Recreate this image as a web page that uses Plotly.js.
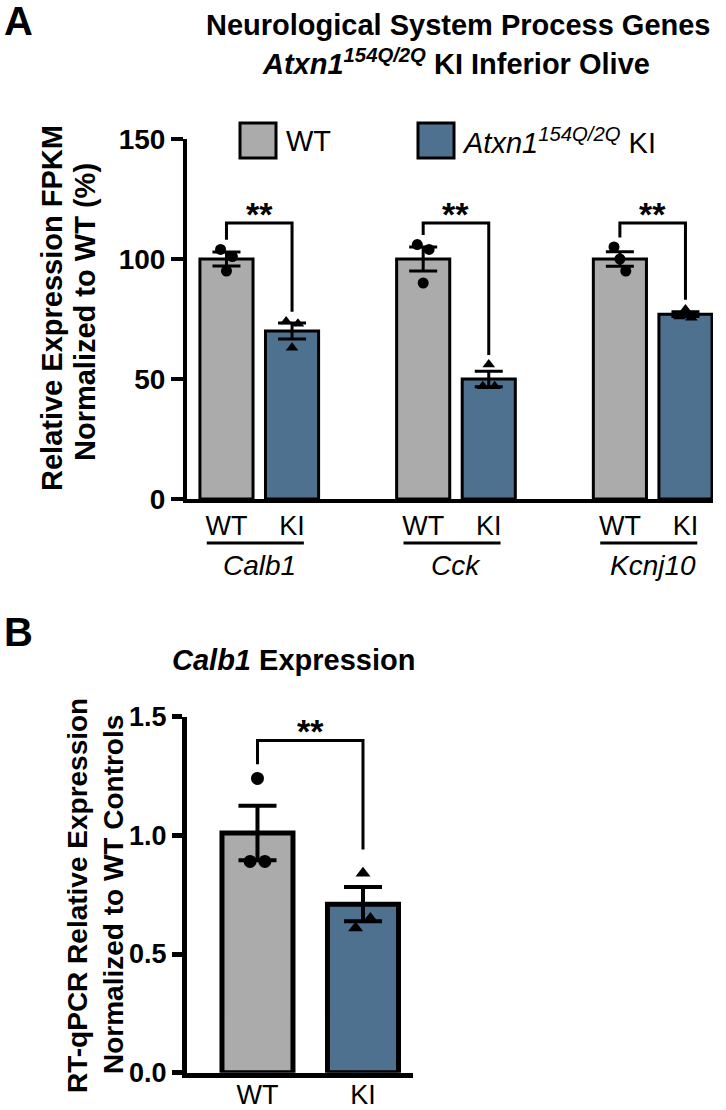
<!DOCTYPE html>
<html>
<head>
<meta charset="utf-8">
<script src="https://cdn.plot.ly/plotly-3.0.1.min.js"></script>
<style>html,body{margin:0;padding:0;background:#fff;}#chart{width:726px;height:1110px;}</style>
</head>
<body>
<div id="chart"></div>
<script>
// ---------- DATA ----------
// Panel A: FPKM normalized to WT (%)
const genes = ["Calb1", "Cck", "Kcnj10"];
const groupLabels = ["WT", "KI"];
const wtMeanA = [100, 100, 100];
const kiMeanA = [70, 50, 77];
const wtSemA = [2.9, 5.0, 3.0];
const kiSemA = [3.3, 3.2, 1.0];
const wtPointsA = [[104, 101, 95], [106, 104, 90], [105, 95, 100]];
const kiPointsA = [[74, 73, 63], [47, 47, 56], [76, 75.5, 79]];
const sigA = ["**", "**", "**"];
const yTicksA = [0, 50, 100, 150];

// Panel B: RT-qPCR Calb1
const catsB = ["WT", "KI"];
const meanB = [1.01, 0.71];
const semB = [0.115, 0.072];
const pointsB = [[0.89, 0.89, 1.24], [0.61, 0.65, 0.84]];
const sigB = "**";
const yTicksB = [0, 0.5, 1.0, 1.5];

// ---------- STYLE ----------
const W = 726, H = 1110;
const px = x => x / W;
const py = y => 1 - y / H;
const FONT = "Liberation Sans, Arial, Helvetica, sans-serif";
const GRAY = "#ABABAB";
const BLUE = "#4F7190";
const JIT_A = [-0.09, 0.09, 0];
const JIT_B = [-0.07, 0.07, 0];

const wtPos = genes.map((g, i) => 3 * i);
const kiPos = genes.map((g, i) => 3 * i + 1);

const traces = [];
traces.push({
  type: "bar", x: wtPos, y: wtMeanA, width: 0.81, xaxis: "x", yaxis: "y",
  marker: {color: GRAY, line: {color: "#000", width: 3}},
  error_y: {type: "data", array: wtSemA, visible: true, color: "#000", thickness: 3, width: 14},
  hoverinfo: "skip", showlegend: false
});
traces.push({
  type: "bar", x: kiPos, y: kiMeanA, width: 0.81, xaxis: "x", yaxis: "y",
  marker: {color: BLUE, line: {color: "#000", width: 3}},
  error_y: {type: "data", array: kiSemA, visible: true, color: "#000", thickness: 3, width: 14},
  hoverinfo: "skip", showlegend: false
});
const wx = [], wy = [], kx = [], ky = [];
genes.forEach((g, i) => {
  wtPointsA[i].forEach((v, j) => { wx.push(wtPos[i] + JIT_A[j]); wy.push(v); });
  kiPointsA[i].forEach((v, j) => { kx.push(kiPos[i] + JIT_A[j]); ky.push(v); });
});
traces.push({type: "scatter", mode: "markers", x: wx, y: wy, xaxis: "x", yaxis: "y",
  marker: {symbol: "circle", size: 11, color: "#000"}, hoverinfo: "skip", showlegend: false});
traces.push({type: "scatter", mode: "markers", x: kx, y: ky, xaxis: "x", yaxis: "y",
  marker: {symbol: "triangle-up", size: 11, color: "#000"}, hoverinfo: "skip", showlegend: false});

const posB = catsB.map((c, i) => i);
traces.push({
  type: "bar", x: [posB[0]], y: [meanB[0]], width: 0.673, xaxis: "x2", yaxis: "y2",
  marker: {color: GRAY, line: {color: "#000", width: 5}},
  error_y: {type: "data", array: [semB[0]], visible: true, color: "#000", thickness: 4, width: 19},
  hoverinfo: "skip", showlegend: false
});
traces.push({
  type: "bar", x: [posB[1]], y: [meanB[1]], width: 0.673, xaxis: "x2", yaxis: "y2",
  marker: {color: BLUE, line: {color: "#000", width: 5}},
  error_y: {type: "data", array: [semB[1]], visible: true, color: "#000", thickness: 4, width: 19},
  hoverinfo: "skip", showlegend: false
});
traces.push({type: "scatter", mode: "markers",
  x: pointsB[0].map((v, j) => posB[0] + JIT_B[j]), y: pointsB[0], xaxis: "x2", yaxis: "y2",
  marker: {symbol: "circle", size: 13, color: "#000"}, hoverinfo: "skip", showlegend: false});
traces.push({type: "scatter", mode: "markers",
  x: pointsB[1].map((v, j) => posB[1] + JIT_B[j]), y: pointsB[1], xaxis: "x2", yaxis: "y2",
  marker: {symbol: "triangle-up", size: 13, color: "#000"}, hoverinfo: "skip", showlegend: false});

// ---------- shapes & annotations ----------
const shapes = [], ann = [];
const topA = 115;
genes.forEach((g, i) => {
  const yl = Math.max(...wtPointsA[i]) + 4;
  const yr = Math.max(...kiPointsA[i]) + 4;
  shapes.push({type: "path", xref: "x", yref: "y",
    path: `M ${wtPos[i]},${yl} L ${wtPos[i]},${topA} L ${kiPos[i]},${topA} L ${kiPos[i]},${yr}`,
    line: {color: "#000", width: 3}});
  ann.push({xref: "x", yref: "y", x: (wtPos[i] + kiPos[i]) / 2, y: topA, yanchor: "bottom",
    yshift: -12, text: sigA[i], showarrow: false, font: {family: FONT, size: 34, color: "#000", weight: 700}});
  shapes.push({type: "line", xref: "x", yref: "paper", x0: wtPos[i] - 0.3, x1: kiPos[i] + 0.18,
    y0: py(543), y1: py(543), line: {color: "#000", width: 3}});
  ann.push({xref: "x", yref: "paper", x: (wtPos[i] + kiPos[i]) / 2, y: py(565), yanchor: "middle",
    text: "<i>" + g + "</i>", showarrow: false, font: {family: FONT, size: 28, color: "#000"}});
});
const topB = 1.40;
const ylB = Math.max(...pointsB[0]) + 0.06;
const yrB = Math.max(...pointsB[1]) + 0.10;
shapes.push({type: "path", xref: "x2", yref: "y2",
  path: `M ${posB[0]},${ylB} L ${posB[0]},${topB} L ${posB[1]},${topB} L ${posB[1]},${yrB}`,
  line: {color: "#000", width: 3}});
ann.push({xref: "x2", yref: "y2", x: (posB[0] + posB[1]) / 2, y: topB, yanchor: "bottom",
  yshift: -12, text: sigB, showarrow: false, font: {family: FONT, size: 34, color: "#000", weight: 700}});

// legend (panel A)
shapes.push({type: "rect", xref: "paper", yref: "paper", x0: px(240), x1: px(276), y0: py(158), y1: py(123),
  fillcolor: GRAY, line: {color: "#000", width: 3}});
shapes.push({type: "rect", xref: "paper", yref: "paper", x0: px(418), x1: px(454), y0: py(158), y1: py(123),
  fillcolor: BLUE, line: {color: "#000", width: 3}});
ann.push({xref: "paper", yref: "paper", x: px(284), y: py(141), xanchor: "left", yanchor: "middle",
  text: "WT", showarrow: false, font: {family: FONT, size: 29, color: "#000"}});
ann.push({xref: "paper", yref: "paper", x: px(460), y: py(141), xanchor: "left", yanchor: "middle",
  text: "<i>Atxn1</i><sup><i>154Q/2Q</i></sup> KI", showarrow: false, font: {family: FONT, size: 29, color: "#000"}});

// panel letters
ann.push({xref: "paper", yref: "paper", x: px(2), y: py(21), xanchor: "left", yanchor: "middle",
  text: "A", showarrow: false, font: {family: FONT, size: 40, color: "#000", weight: 700}});
ann.push({xref: "paper", yref: "paper", x: px(2), y: py(632), xanchor: "left", yanchor: "middle",
  text: "B", showarrow: false, font: {family: FONT, size: 40, color: "#000", weight: 700}});

// titles
ann.push({xref: "paper", yref: "paper", x: px(458), y: py(25), xanchor: "center", yanchor: "middle",
  text: "Neurological System Process Genes",
  showarrow: false, font: {family: FONT, size: 29, color: "#000", weight: 700}});
ann.push({xref: "paper", yref: "paper", x: px(456), y: py(62), xanchor: "center", yanchor: "middle",
  text: "<i>Atxn1</i><sup><i>154Q/2Q</i></sup> KI Inferior Olive",
  showarrow: false, font: {family: FONT, size: 29, color: "#000", weight: 700}});
ann.push({xref: "paper", yref: "paper", x: px(293), y: py(660), xanchor: "center", yanchor: "middle",
  text: "<i>Calb1</i> Expression", showarrow: false, font: {family: FONT, size: 29, color: "#000", weight: 700}});

// y titles (one annotation per line)
const yTitleFontA = {family: FONT, size: 29, color: "#000", weight: 700};
const yTitleFontB = {family: FONT, size: 28, color: "#000", weight: 700};
ann.push({xref: "paper", yref: "paper", x: px(52), y: py(308), xanchor: "center", yanchor: "middle",
  textangle: -90, text: "Relative Expression FPKM", showarrow: false, font: yTitleFontA});
ann.push({xref: "paper", yref: "paper", x: px(85), y: py(312), xanchor: "center", yanchor: "middle",
  textangle: -90, text: "Normalized to WT (%)", showarrow: false, font: yTitleFontA});
ann.push({xref: "paper", yref: "paper", x: px(77), y: py(896), xanchor: "center", yanchor: "middle",
  textangle: -90, text: "RT-qPCR Relative Expression", showarrow: false, font: yTitleFontB});
ann.push({xref: "paper", yref: "paper", x: px(113), y: py(895), xanchor: "center", yanchor: "middle",
  textangle: -90, text: "Normalized to WT Controls", showarrow: false, font: yTitleFontB});

const layout = {
  width: W, height: H,
  margin: {l: 0, r: 0, t: 0, b: 0},
  paper_bgcolor: "#fff", plot_bgcolor: "rgba(0,0,0,0)",
  showlegend: false, bargap: 0,
  xaxis: {domain: [px(187), px(713)], range: [-0.602, 7.42], anchor: "y",
    tickvals: wtPos.concat(kiPos), ticktext: wtPos.map(() => groupLabels[0]).concat(kiPos.map(() => groupLabels[1])),
    ticks: "", tickfont: {family: FONT, size: 27, color: "#000"},
    showline: true, linecolor: "#000", linewidth: 4, showgrid: false, zeroline: false, fixedrange: true},
  yaxis: {domain: [py(499), py(139)], range: [0, 150], anchor: "x",
    tickvals: yTicksA, ticks: "outside", ticklen: 12, tickwidth: 4, tickcolor: "#000",
    tickfont: {family: FONT, size: 28, color: "#000", weight: 700}, showline: true, linecolor: "#000", linewidth: 4,
    showgrid: false, zeroline: false, fixedrange: true},
  xaxis2: {domain: [px(187), px(413)], range: [-0.668, 1.474], anchor: "y2",
    tickvals: posB, ticktext: catsB, ticks: "", ticklabelstandoff: -6,
    tickfont: {family: FONT, size: 27, color: "#000"},
    showline: true, linecolor: "#000", linewidth: 5, showgrid: false, zeroline: false, fixedrange: true},
  yaxis2: {domain: [py(1072.7), py(716.7)], range: [0, 1.5], anchor: "x2",
    tickvals: yTicksB, tickformat: ".1f", ticks: "outside", ticklen: 10, tickwidth: 5, tickcolor: "#000",
    tickfont: {family: FONT, size: 27, color: "#000", weight: 700}, showline: true, linecolor: "#000", linewidth: 5,
    showgrid: false, zeroline: false, fixedrange: true},
  shapes: shapes,
  annotations: ann
};

Plotly.newPlot("chart", traces, layout, {displayModeBar: false, staticPlot: true});
</script>
</body>
</html>
